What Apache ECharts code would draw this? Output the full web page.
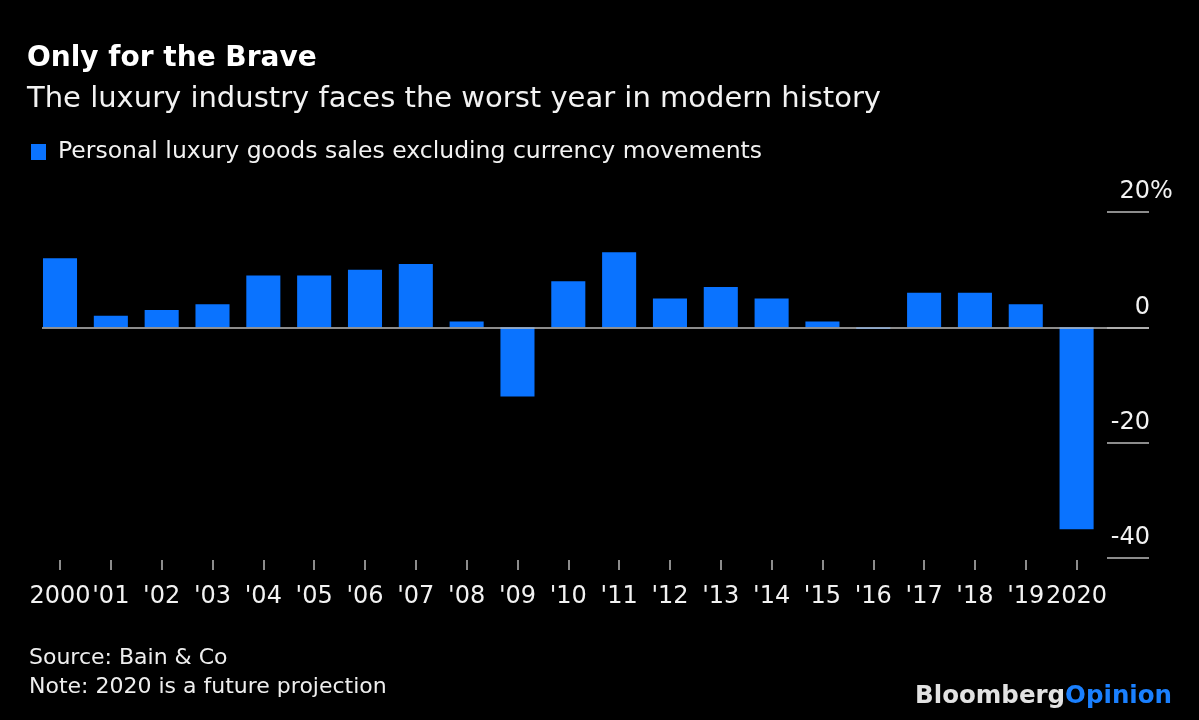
<!DOCTYPE html>
<html>
<head>
<meta charset="utf-8">
<script src="https://cdn.jsdelivr.net/npm/echarts@6/dist/echarts.min.js"></script>
<style>
html,body{margin:0;padding:0;background:#000;}
#chart{width:1199px;height:720px;}
</style>
</head>
<body>
<div id="chart"></div>
<script>
const categories = ['2000', "'01", "'02", "'03", "'04", "'05", "'06", "'07", "'08", "'09", "'10",
  "'11", "'12", "'13", "'14", "'15", "'16", "'17", "'18", "'19", '2020'];
const salesGrowth = [12, 2, 3, 4, 9, 9, 10, 11, 1, -12, 8, 13, 5, 7, 5, 1, -0.3, 6, 6, 4, -35];
const yMin = -40, yMax = 20, yStep = 20;
const unitSuffix = '%';
const seriesName = 'Personal luxury goods sales excluding currency movements';
const titleText = 'Only for the Brave';
const subtitleText = 'The luxury industry faces the worst year in modern history';
const sourceText = 'Source: Bain & Co';
const noteText = 'Note: 2020 is a future projection';

const FONT = 'DejaVu Sans';
const BLUE = '#0a73ff';
const LABEL = {color: '#f2f2f2', fontFamily: FONT, fontSize: 24};
const chart = echarts.init(document.getElementById('chart'), null, {renderer: 'canvas'});
chart.setOption({
  backgroundColor: '#000',
  animation: false,
  textStyle: {fontFamily: FONT},
  title: [
    {text: titleText, left: 22, top: 40,
     textStyle: {color: '#fff', fontFamily: FONT, fontWeight: 'bold', fontSize: 28}},
    {text: subtitleText, left: 22, top: 80,
     textStyle: {color: '#f2f2f2', fontFamily: FONT, fontWeight: 'normal', fontSize: 29}},
    {text: sourceText + '\n' + noteText, left: 24, top: 639,
     textStyle: {color: '#eee', fontFamily: FONT, fontWeight: 'normal', fontSize: 22, lineHeight: 29}},
    {text: '{a|Bloomberg}{b|Opinion}', right: 22, top: 679,
     textStyle: {rich: {
       a: {color: '#e2e2e2', fontFamily: FONT, fontWeight: 'bold', fontSize: 24.5},
       b: {color: '#1a80ff', fontFamily: FONT, fontWeight: 'bold', fontSize: 24.5}
     }}}
  ],
  legend: {
    left: 26, top: 135, icon: 'rect', itemWidth: 15, itemHeight: 16, selectedMode: false,
    textStyle: {color: '#f2f2f2', fontFamily: FONT, fontSize: 23.5, padding: [0, 0, 0, 7]},
    data: [seriesName]
  },
  grid: {left: 34.6, right: 97, top: 212, bottom: 162, containLabel: false},
  xAxis: {
    type: 'category', data: categories, offset: 2,
    axisLine: {show: false, onZero: false},
    axisTick: {show: true, alignWithLabel: true, length: 10, lineStyle: {color: '#bbb', width: 1.5}},
    axisLabel: Object.assign({margin: 25, interval: 0}, LABEL)
  },
  yAxis: [{
    type: 'value', position: 'right', offset: 47, min: yMin, max: yMax, interval: yStep,
    axisLine: {show: false},
    splitLine: {show: false},
    axisTick: {show: true, inside: true, length: 42, lineStyle: {color: '#bbb', width: 1.5}},
    axisLabel: Object.assign({inside: true, margin: -1, align: 'right', verticalAlign: 'bottom',
      padding: [0, 0, 8, 0]}, LABEL)
  }, {
    type: 'value', position: 'right', offset: 47, min: yMin, max: yMax, interval: yStep,
    axisLine: {show: false},
    splitLine: {show: false},
    axisTick: {show: false},
    axisLabel: Object.assign({inside: false, margin: 1, align: 'left', verticalAlign: 'bottom',
      padding: [0, 0, 8, 0], formatter: v => v === yMax ? unitSuffix : ''}, LABEL)
  }],
  series: [{
    type: 'bar', name: seriesName, data: salesGrowth, barWidth: '67%', yAxisIndex: 0,
    itemStyle: {color: BLUE},
    markLine: {
      silent: true, symbol: 'none', label: {show: false},
      lineStyle: {color: '#bbb', width: 1.5, type: 'solid'},
      data: [[{x: 42, yAxis: 0}, {x: 1149, yAxis: 0}]]
    }
  }]
});
</script>
</body>
</html>
